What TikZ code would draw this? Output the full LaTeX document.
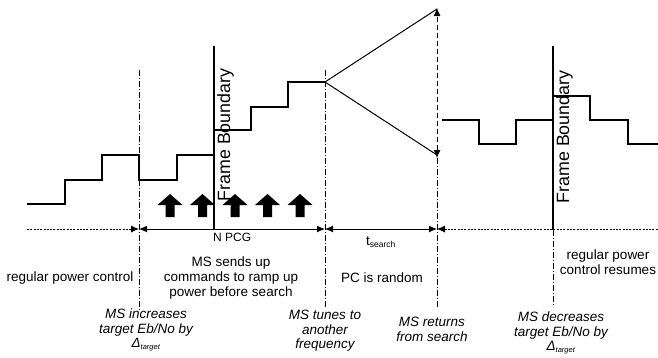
\documentclass[tikz,border=0pt]{standalone}
\usepackage{fontspec}
\setmainfont{Liberation Sans}
\usetikzlibrary{arrows.meta}

\begin{document}
\begin{tikzpicture}[x=1pt,y=-1pt,
  >={Latex[length=8pt,width=7pt]},
  signal/.style={line width=1.3pt, line join=miter},
  ray/.style={line width=1pt},
  fb/.style={line width=2.6pt},
  dashdot/.style={line width=0.6pt, dash pattern=on 6pt off 2pt on 1pt off 2pt},
  dots/.style={line width=0.9pt, dash pattern=on 2pt off 1.3pt},
  longdash/.style={line width=0.9pt, dash pattern=on 5pt off 3pt},
  lbl/.style={font=\fontsize{13.5}{15}\selectfont, align=center, inner sep=0pt},
  ilbl/.style={font=\fontsize{13.5}{14.5}\selectfont\itshape, align=center, inner sep=0pt},
  fblabel/.style={font=\fontsize{17.8}{20}\selectfont, rotate=90, inner sep=0pt},
  upar/.pic={\fill (-12.5,0) -- (0,-11) -- (12.5,0) -- (4.5,0) -- (4.5,12) -- (-4.5,12) -- (-4.5,0) -- cycle;}
]
\useasboundingbox (0,0) rectangle (658,357);

% time axis marks
\coordinate (a0) at (27,229);
\coordinate (a1) at (139,229);
\coordinate (a2) at (325,229);
\coordinate (a3) at (437,229);
\coordinate (a4) at (658,229);

% event markers (dash-dot verticals)
\coordinate (e1t) at (139,70);  \coordinate (e1b) at (139,310);
\coordinate (e2t) at (325,70);  \coordinate (e2b) at (325,308);
\coordinate (vtop) at (437,8);  \coordinate (vbot) at (437,158);
\coordinate (e3b) at (437,308);
\coordinate (f1t) at (214,46);  \coordinate (f1b) at (214,230);
\coordinate (f2t) at (553,46);  \coordinate (f2b) at (553,230);
\coordinate (e4b) at (553,307);

\draw[dashdot] (e1t) -- (e1b);
\draw[dashdot] (e2t) -- (e2b);
\draw[dashdot] (vbot) -- (e3b);
\draw[dashdot] (f2b) -- (e4b);

% up commands
\foreach \x in {170,202.5,235,267.5,300} \pic at (\x,205) {upar};

% frame boundaries
\draw[fb] (f1t) -- (f1b);
\draw[fb] (f2t) -- (f2b);
\node[fblabel] (fbl1) at (225.5,135) {Frame Boundary};
\node[fblabel] (fbl2) at (564.5,137) {Frame Boundary};

% transmit power before the search
\draw[signal] (27,204) -| (65,180) -| (102,155) -| (139,180) -| (177,155)
  -| (214,130) -| (251,107) -| (288,82) -- (325,82) coordinate (apex);
\draw[ray] (apex) -- (437,9);
\draw[ray] (apex) -- (437,155);
\draw[longdash, <->] (vbot) -- (vtop);

% transmit power after the search
\draw[signal] (442,120) -| (479,144) -| (516,120) -| (553,96) -| (590,120)
  -| (628,144) -- (658,144);

% time axis
\draw[dots, ->] (a0) -- (a1);
\draw[line width=1pt, <->] (a1) -- (a2);
\draw[line width=1pt, <->] (a2) -- (a3);
\draw[dots, <-] (a3) -- (a4);

% labels
\node[font=\fontsize{12}{14}\selectfont, anchor=west, inner sep=0pt] (npcg) at (213,237.5) {N PCG};
\node[inner sep=0pt] (ts) at (381,242) {\fontsize{13.5}{15}\selectfont t\textsubscript{\fontsize{8.5}{9}\selectfont search}};
\node[lbl] (rpc) at (70,278) {regular power control};
\node[lbl] (send) at (231,278) {MS sends up\\commands to ramp up\\power before search};
\node[lbl] (pcr) at (382,278) {PC is random};
\node[lbl] (rpcr) at (608,262.5) {regular power\\control resumes};

\node[ilbl] (inc) at (146,330) {MS increases\\target Eb/No by\\Δ\textsubscript{\fontsize{7.5}{8}\selectfont target}};
\node[ilbl] (tune) at (325,331) {MS tunes to\\another\\frequency};
\node[ilbl] (ret) at (432,329.5) {MS returns\\from search};
\node[ilbl] (dec) at (561,333) {MS decreases\\target Eb/No by\\Δ\textsubscript{\fontsize{7.5}{8}\selectfont target}};
\end{tikzpicture}
\end{document}
